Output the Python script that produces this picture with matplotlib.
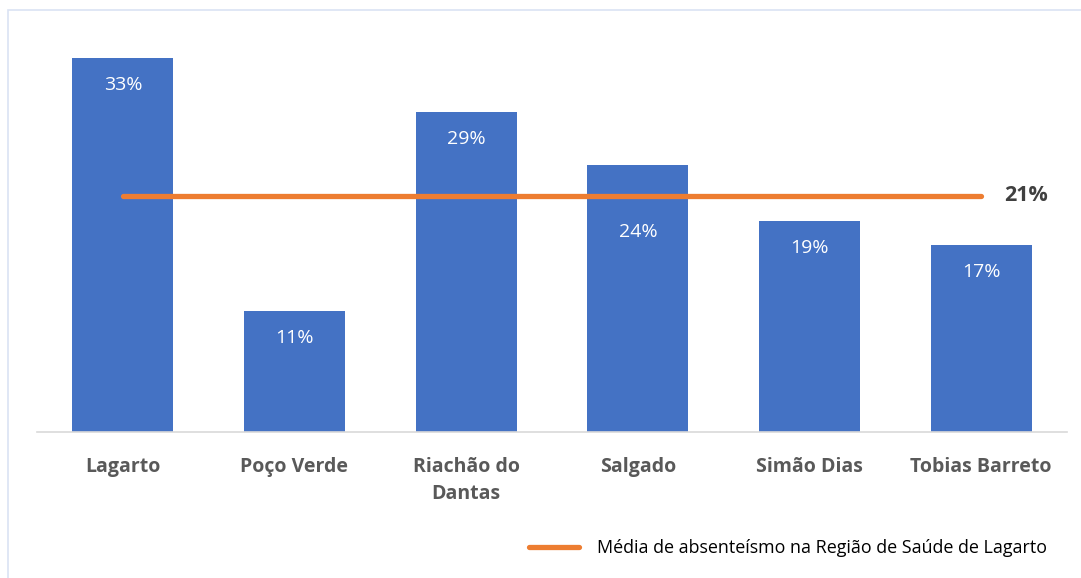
import matplotlib
matplotlib.use("Agg")
import matplotlib.pyplot as plt
from matplotlib.patches import Rectangle
from matplotlib.lines import Line2D

categories = ["Lagarto", "Poço Verde", "Riachão do\nDantas", "Salgado", "Simão Dias", "Tobias Barreto"]
values = [33.4, 10.8, 28.6, 23.8, 18.8, 16.7]
mean_value = 21.1
legend_label = "Média de absenteísmo na Região de Saúde de Lagarto"

BLUE = "#4472C4"
ORANGE = "#ED7D31"
FONT = "Open Sans"

W, H = 1081, 578
fig = plt.figure(figsize=(W / 100, H / 100), dpi=100)
fig.patch.set_facecolor("white")

# light blue frame
fig.patches.append(Rectangle((8 / W, -0.1), 1.2, 1 - 10 / H + 0.1, transform=fig.transFigure,
                             fill=False, edgecolor="#DAE3F3", linewidth=1.2))

ax = fig.add_axes([37 / W, (H - 432) / H, 1030 / W, 403.2 / H])
x = list(range(len(categories)))
ax.bar(x, values, width=0.59, color=BLUE, zorder=2)
ax.set_xlim(-0.5, len(categories) - 0.5)
ax.set_ylim(0, 36)

for i, (xi, v) in enumerate(zip(x, values)):
    off = 2.4
    if i == 3:  # label moved below the average line in the original
        off = 5.9
    ax.text(xi, v - off, f"{round(v)}%", ha="center", va="center", color="white",
            fontsize=14, family=FONT)

ax.plot([x[0], x[-1]], [mean_value, mean_value], color=ORANGE, linewidth=3.8,
        solid_capstyle="round", zorder=3)
ax.text(x[-1] + 0.135, mean_value, f"{round(mean_value)}%", ha="left", va="center",
        fontsize=15.5, fontweight="bold", color="#404040", family=FONT)

for s in ["top", "left", "right"]:
    ax.spines[s].set_visible(False)
ax.spines["bottom"].set_color("#D9D9D9")
ax.spines["bottom"].set_linewidth(1.2)
ax.set_yticks([])
ax.set_xticks(x)
ax.set_xticklabels(categories, fontsize=14, fontweight="bold", color="#595959", family=FONT,
                   linespacing=1.45, va="top")
ax.tick_params(axis="x", length=0, pad=18)

leg_line = Line2D([0], [0], color=ORANGE, linewidth=3.8, solid_capstyle="round")
fig.legend([leg_line], [legend_label], loc="center", bbox_to_anchor=(788 / W, 1 - 548 / H),
           frameon=False, prop={"family": FONT, "size": 12.9}, handlelength=2.8,
           handletextpad=1.0)

fig.savefig("out.png", dpi=100)
